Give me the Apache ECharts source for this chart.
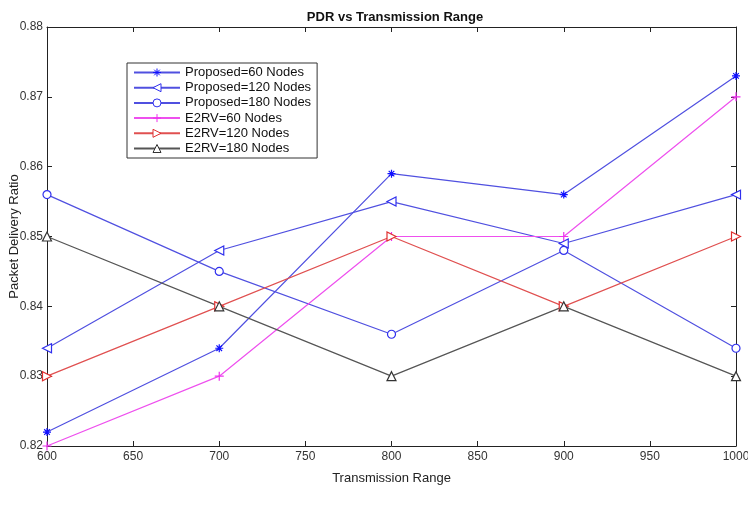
<!DOCTYPE html>
<html>
<head>
<meta charset="utf-8">
<script src="https://cdn.jsdelivr.net/npm/echarts@6/dist/echarts.min.js"></script>
<style>
  html, body { margin: 0; padding: 0; background: #fff; }
  #main { width: 748px; height: 514px; }
</style>
</head>
<body>
<div id="main"></div>
<script>
// data
const ranges = [600, 700, 800, 900, 1000];
const proposed60 = [0.822, 0.834, 0.859, 0.856, 0.873];
const proposed120 = [0.834, 0.848, 0.855, 0.849, 0.856];
const proposed180 = [0.856, 0.845, 0.836, 0.848, 0.834];
const e2rv60 = [0.820, 0.830, 0.850, 0.850, 0.870];
const e2rv120 = [0.830, 0.840, 0.850, 0.840, 0.850];
const e2rv180 = [0.850, 0.840, 0.830, 0.840, 0.830];
const yTicks = [0.82, 0.83, 0.84, 0.85, 0.86, 0.87, 0.88];

const star = 'path://M0,5L10,5M5,0L5,10M1.5,1.5L8.5,8.5M8.5,1.5L1.5,8.5';
const plus = 'path://M0,5L10,5M5,0L5,10';

function pairs(vals) {
    return ranges.map(function (x, i) { return [x, vals[i]]; });
}

function mk(name, vals, color, lineColor, symbol, size, rotate, hollow) {
    return {
        name: name,
        type: 'line',
        data: pairs(vals),
        symbol: symbol,
        symbolSize: size,
        symbolRotate: rotate,
        showAllSymbol: true,
        lineStyle: { color: lineColor, width: 1.2 },
        itemStyle: {
            color: hollow ? '#fff' : color,
            borderColor: color,
            borderWidth: 1.2
        },
        emphasis: { disabled: true },
        z: 3
    };
}

let myChart1 = echarts.init(document.getElementById('main'));
let option = {
    animation: false,
    backgroundColor: '#fff',
    textStyle: { fontFamily: 'Liberation Sans, Arial, sans-serif' },
    title: {
        text: 'PDR vs Transmission Range',
        left: 390, top: 6,
        textAlign: 'center',
        textStyle: { fontSize: 13, fontWeight: 'bold', color: '#111' }
    },
    legend: {
        orient: 'vertical',
        left: 127, top: 63,
        padding: [3, 6, 3, 6],
        itemGap: 2.2,
        itemWidth: 46, itemHeight: 10,
        borderColor: '#333', borderWidth: 1,
        backgroundColor: '#fff',
        itemStyle: { borderWidth: 1 },
        textStyle: { fontSize: 13, color: '#111' },
        data: ['Proposed=60 Nodes', 'Proposed=120 Nodes', 'Proposed=180 Nodes',
               'E2RV=60 Nodes', 'E2RV=120 Nodes', 'E2RV=180 Nodes']
    },
    grid: { left: 47, right: 12, top: 27, bottom: 68, outerBoundsMode: 'none', containLabel: false },
    xAxis: [{
        type: 'value', min: 600, max: 1000, interval: 50,
        name: 'Transmission Range', nameLocation: 'middle', nameGap: 26,
        nameMoveOverlap: false,
        nameTextStyle: { fontSize: 13, color: '#222' },
        axisLine: { lineStyle: { color: '#222' } },
        axisTick: { inside: true, length: 5, lineStyle: { color: '#222' } },
        axisLabel: { fontSize: 12, color: '#333', margin: 5,
            formatter: function (v) { return String(v); } },
        splitLine: { show: false }
    }, {
        type: 'value', min: 600, max: 1000, interval: 50, position: 'top',
        axisLine: { lineStyle: { color: '#222' } },
        axisTick: { inside: true, length: 5, lineStyle: { color: '#222' } },
        axisLabel: { show: false },
        splitLine: { show: false }
    }],
    yAxis: [{
        type: 'value', min: 0.82, max: 0.88, interval: 0.01,
        name: 'Packet Delivery Ratio', nameLocation: 'middle', nameGap: 26,
        nameMoveOverlap: false,
        nameTextStyle: { fontSize: 13, color: '#222' },
        axisLine: { show: true, lineStyle: { color: '#222' } },
        axisTick: { show: true, inside: true, length: 5, lineStyle: { color: '#222' } },
        axisLabel: { fontSize: 12, color: '#333', margin: 4,
            formatter: function (v) { return v.toFixed(2); } },
        splitLine: { show: false }
    }, {
        type: 'value', min: 0.82, max: 0.88, interval: 0.01, position: 'right',
        axisLine: { show: true, lineStyle: { color: '#222' } },
        axisTick: { show: true, inside: true, length: 5, lineStyle: { color: '#222' } },
        axisLabel: { show: false },
        splitLine: { show: false }
    }],
    series: [
        mk('Proposed=60 Nodes', proposed60, '#1010ff', '#5050e0', star, 8, 0, false),
        mk('Proposed=120 Nodes', proposed120, '#3030ee', '#5050e0', 'triangle', 9, 90, true),
        mk('Proposed=180 Nodes', proposed180, '#3030ee', '#5050e0', 'circle', 8, 0, true),
        mk('E2RV=60 Nodes', e2rv60, '#ee30ee', '#ee50ee', plus, 9, 0, false),
        mk('E2RV=120 Nodes', e2rv120, '#e03030', '#e05050', 'triangle', 9, -90, true),
        mk('E2RV=180 Nodes', e2rv180, '#333333', '#555555', 'triangle', 9, 0, true)
    ]
};

myChart1.setOption(option);
</script>
</body>
</html>
